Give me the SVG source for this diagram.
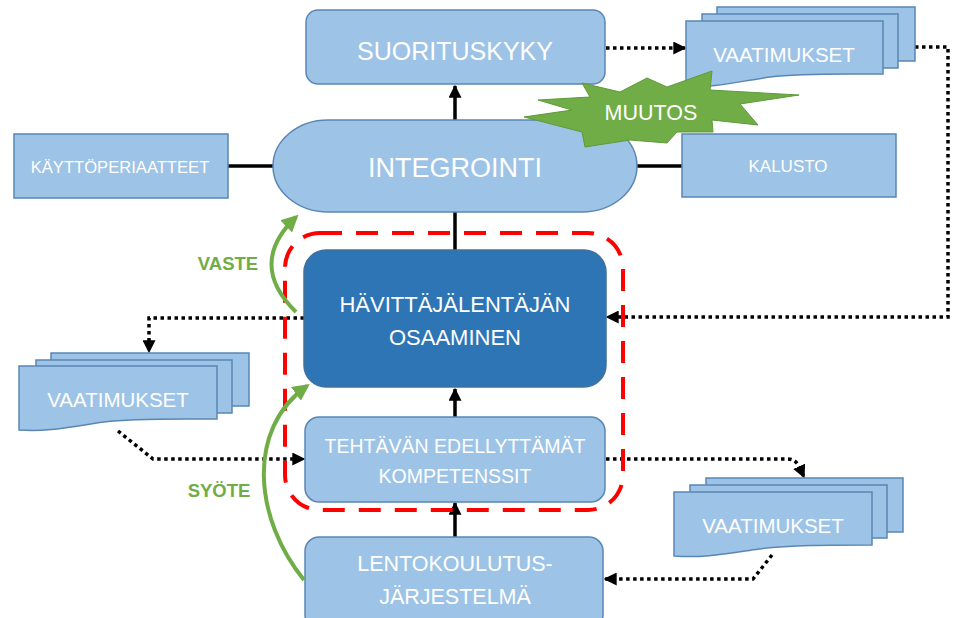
<svg xmlns="http://www.w3.org/2000/svg" width="953" height="618" viewBox="0 0 953 618">
  <style>
    .box { fill: #9DC3E6; stroke: #5A86B4; stroke-width: 1.5; }
    .dark { fill: #2E75B6; stroke: #41719C; stroke-width: 1.5; }
    .lbl { font-family: "Liberation Sans", Arial, sans-serif; fill: #FFFFFF; text-anchor: middle; }
    .green-lbl { font-family: "Liberation Sans", Arial, sans-serif; font-weight: bold; fill: #70AD47; text-anchor: middle; }
    .solid { fill: none; stroke: #000000; stroke-width: 3.5; }
    .dots { fill: none; stroke: #000000; stroke-width: 3.5; stroke-dasharray: 3.5 3.5; }
    .flow { fill: none; stroke: #70AD47; stroke-width: 4; }
    .scope { fill: none; stroke: #FF0000; stroke-width: 4; stroke-dasharray: 22 14; }
  </style>
  <defs>
    <marker id="arrow" viewBox="0 0 10 10" refX="9" refY="5" markerWidth="13" markerHeight="13" markerUnits="userSpaceOnUse" orient="auto">
      <path d="M0,0 L10,5 L0,10 z" fill="#000000"/>
    </marker>
    <marker id="garrow" viewBox="0 0 10 10" refX="8" refY="5" markerWidth="17" markerHeight="17" markerUnits="userSpaceOnUse" orient="auto">
      <path d="M0,0 L10,5 L0,10 z" fill="#70AD47"/>
    </marker>
  </defs>

  <!-- connectors -->
  <g id="connectors">
    <path class="solid" d="M228,166 H275"/>
    <path class="solid" d="M635,166 H682"/>
    <path class="solid" d="M455,121 V86" marker-end="url(#arrow)"/>
    <path class="solid" d="M455,211 V250"/>
    <path class="solid" d="M455,417 V389" marker-end="url(#arrow)"/>
    <path class="solid" d="M455,537 V503" marker-end="url(#arrow)"/>
    <path class="dots" d="M606,48 H685" marker-end="url(#arrow)"/>
    <path class="dots" d="M915,47 H948 V317 H607" marker-end="url(#arrow)"/>
    <path class="dots" d="M304,318 H149 V352" marker-end="url(#arrow)"/>
    <path class="dots" d="M118,431 L153,459 H304" marker-end="url(#arrow)"/>
    <path class="dots" d="M606,459 H788 Q795,459 799,466 L804,477" marker-end="url(#arrow)"/>
    <path class="dots" d="M772,555 L753,579 H605" marker-end="url(#arrow)"/>
  </g>

  <g id="suorituskyky">
    <rect class="box" x="306" y="10" width="299" height="74" rx="12"/>
    <text class="lbl" x="455" y="60" font-size="25">SUORITUSKYKY</text>
  </g>

  <g id="integrointi">
    <rect class="box" x="273" y="120" width="364" height="92" rx="55" ry="46"/>
    <text class="lbl" x="455" y="177" font-size="27">INTEGROINTI</text>
  </g>

  <g id="kayttoperiaatteet">
    <rect class="box" x="14" y="134" width="214" height="64"/>
    <text class="lbl" x="120" y="173" font-size="16.6">KÄYTTÖPERIAATTEET</text>
  </g>

  <g id="kalusto">
    <rect class="box" x="682" y="134" width="214" height="63"/>
    <text class="lbl" x="788" y="172" font-size="17">KALUSTO</text>
  </g>

  <g id="vaatimukset-top">
    <rect class="box" x="717" y="7" width="198" height="54"/>
    <rect class="box" x="702" y="14" width="196" height="54"/>
    <path class="box" d="M686,21 H883 V74 C840,74 800,73 770,77 C735,82 715,88 686,86 Z"/>
    <text class="lbl" x="784" y="62" font-size="20.5">VAATIMUKSET</text>
  </g>

  <g id="vaatimukset-left">
    <rect class="box" x="51" y="353" width="198" height="53"/>
    <rect class="box" x="36" y="360" width="196" height="53"/>
    <path class="box" d="M19,366 H217 V419 C174,419 134,418 104,422 C69,427 49,432 19,430 Z"/>
    <text class="lbl" x="118" y="407" font-size="20.5">VAATIMUKSET</text>
  </g>

  <g id="vaatimukset-bottom">
    <rect class="box" x="706" y="478" width="197" height="54"/>
    <rect class="box" x="690" y="485" width="197" height="53"/>
    <path class="box" d="M674,492 H872 V545 C829,545 789,545 759,549 C724,554 704,558 674,556 Z"/>
    <text class="lbl" x="773" y="533" font-size="20.5">VAATIMUKSET</text>
  </g>

  <g id="muutos">
    <polygon fill="#70AD47" stroke="#5E9A3A" stroke-width="1"
      points="582,83 620,92 647,78 667,87 712,71 710,90 799,95 740,104 758,125 712,120 713,132 677,132 667,143 630,140 585,147 582,132 524,117 572,110 538,100 590,97"/>
    <text class="lbl" x="651" y="120" font-size="21.5">MUUTOS</text>
  </g>

  <g id="osaamisalue">
    <rect class="scope" x="285" y="233" width="338" height="277" rx="35"/>
  </g>

  <g id="havittajalentajan-osaaminen">
    <rect class="dark" x="304" y="250" width="302" height="137" rx="22"/>
    <text class="lbl" x="455" y="312" font-size="22">HÄVITTÄJÄLENTÄJÄN</text>
    <text class="lbl" x="455" y="345" font-size="22">OSAAMINEN</text>
  </g>

  <g id="tehtavan-kompetenssit">
    <rect class="box" x="305" y="417" width="300" height="85" rx="14"/>
    <text class="lbl" x="455" y="453" font-size="19.5">TEHTÄVÄN EDELLYTTÄMÄT</text>
    <text class="lbl" x="455" y="483" font-size="19.5">KOMPETENSSIT</text>
  </g>

  <g id="lentokoulutusjarjestelma">
    <rect class="box" x="305" y="537" width="298" height="92" rx="14"/>
    <text class="lbl" x="455" y="571" font-size="21.5">LENTOKOULUTUS-</text>
    <text class="lbl" x="455" y="604" font-size="21.5">JÄRJESTELMÄ</text>
  </g>

  <!-- feedback loops -->
  <g id="vaste">
    <path class="flow" d="M296,312 Q247,264 296,217" marker-end="url(#garrow)"/>
    <text class="green-lbl" x="228" y="270" font-size="18.5">VASTE</text>
  </g>
  <g id="syote">
    <path class="flow" d="M304,580 C255,520 245,430 307,386" marker-end="url(#garrow)"/>
    <text class="green-lbl" x="219" y="497" font-size="18.5">SYÖTE</text>
  </g>
</svg>
